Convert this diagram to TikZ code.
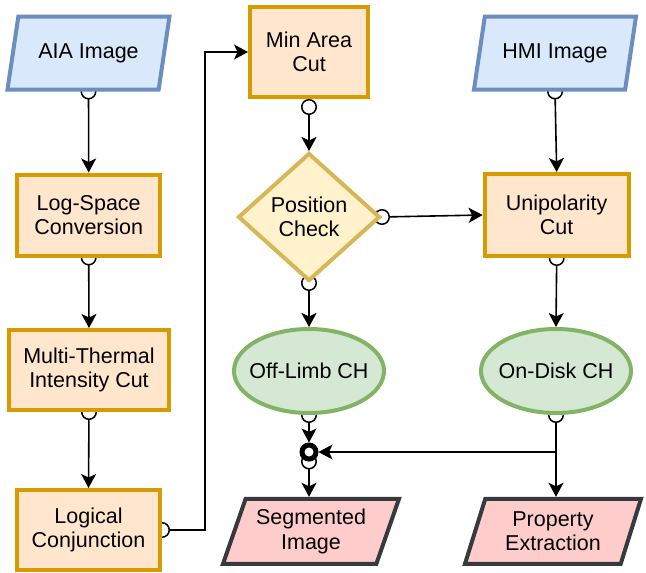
\documentclass[tikz,border=0pt]{standalone}
\usepackage{fontspec}
\setmainfont{Liberation Sans}
\usetikzlibrary{shapes.geometric, arrows.meta, backgrounds}

\definecolor{inputfill}{HTML}{DAE8FC}
\definecolor{inputline}{HTML}{6C8EBF}
\definecolor{stepfill}{HTML}{FFE6CC}
\definecolor{stepline}{HTML}{D79B00}
\definecolor{checkfill}{HTML}{FFF2CC}
\definecolor{checkline}{HTML}{D6B656}
\definecolor{chfill}{HTML}{D5E8D4}
\definecolor{chline}{HTML}{82B366}
\definecolor{outfill}{HTML}{FFCCCC}
\definecolor{outline}{HTML}{36393D}

\tikzset{
    base/.style={draw, line width=4pt, align=center, inner sep=2pt,
        font=\fontsize{21.5}{24.5}\selectfont},
    slanted/.style={base, trapezium, trapezium left angle=65,
        trapezium right angle=115, trapezium stretches body},
    inbox/.style={slanted, fill=inputfill, draw=inputline,
        minimum width=162pt, minimum height=73pt},
    outbox/.style={slanted, fill=outfill, draw=outline,
        minimum width=176pt, minimum height=65pt},
    stepbox/.style={base, rectangle, fill=stepfill, draw=stepline},
    checkbox/.style={base, diamond, fill=checkfill, draw=checkline,
        minimum width=142pt, minimum height=128pt, inner sep=0pt},
    chbox/.style={base, ellipse, fill=chfill, draw=chline,
        minimum width=150pt, minimum height=84pt, inner xsep=-8pt, inner ysep=0pt},
    joint/.style={circle, draw, fill=white, line width=5pt,
        minimum size=14pt, inner sep=0pt},
    flow/.style={line width=1.6pt, -{Stealth[length=14pt, width=15pt, inset=3.5pt]}},
    heavy/.style={line width=2.5pt},
    ring/.style={line width=1.6pt, shorten <=-8pt,
        {Circle[open, length=16pt, width=16pt, line width=1.5pt]}-{Stealth[length=14pt, width=15pt, inset=3.5pt]}},
    ringonly/.style={line width=1.6pt, shorten <=-8pt,
        {Circle[open, length=16pt, width=16pt, line width=1.5pt]}-},
}

\begin{document}
\begin{tikzpicture}[x=1pt, y=-1pt]
    \useasboundingbox (0,0) rectangle (646,573);

    % left column
    \node[inbox] (aia) at (88.5,53) {AIA Image};
    \node[stepbox, minimum width=143pt, minimum height=81pt] (logspace) at (88.7,215) {Log-Space\\Conversion};
    \node[stepbox, minimum width=160pt, minimum height=80pt] (thermal) at (89,370) {Multi-Thermal\\Intensity Cut};
    \node[stepbox, minimum width=143pt, minimum height=80pt] (conj) at (88.5,530) {Logical\\Conjunction};

    % middle column
    \node[stepbox, minimum width=118pt, minimum height=90pt] (minarea) at (309,52) {Min Area\\Cut};
    \node[checkbox] (poscheck) at (309,217) {Position\\Check};
    \node[chbox] (offlimb) at (309,371) {Off-Limb CH};
    \node[joint] (merge) at (309,452) {};
    \node[outbox] (segment) at (311,531.3) {Segmented\\Image};

    % right column
    \node[inbox] (hmi) at (555,53) {HMI Image};
    \node[stepbox, minimum width=144pt, minimum height=82pt] (unipol) at (556.7,215) {Unipolarity\\Cut};
    \node[chbox] (ondisk) at (556,371) {On-Disk CH};
    \node[outbox] (property) at (553,531.3) {Property\\Extraction};
    \coordinate (split) at (556,452);

    \begin{scope}[on background layer]
        \draw[ring] (aia.south) -- (logspace.north);
        \draw[ring] (logspace.south) -- (thermal.north);
        \draw[ring] (thermal.south) -- (conj.north);
        \draw[ring] (conj.east) -- ++(43,0) |- (minarea.west);
        \draw[ring, heavy, shorten <=0pt] (minarea.south) -- (poscheck.north);
        \draw[ring] (poscheck.east) -- (unipol.west);
        \draw[ring, heavy] (poscheck.south) -- (offlimb.north);
        \draw[ring] (hmi.south) -- (unipol.north);
        \draw[ring] (unipol.south) -- (ondisk.north);
        \draw[ring] (offlimb.south) -- (merge.north);
        \draw[ringonly] (ondisk.south) -- (split);
        \draw[flow] (split) -- (merge.east);
        \draw[flow] (split) -- (split |- property.north);
        \draw[ring] (merge.south) -- (merge.south |- segment.north);
    \end{scope}
\end{tikzpicture}
\end{document}
